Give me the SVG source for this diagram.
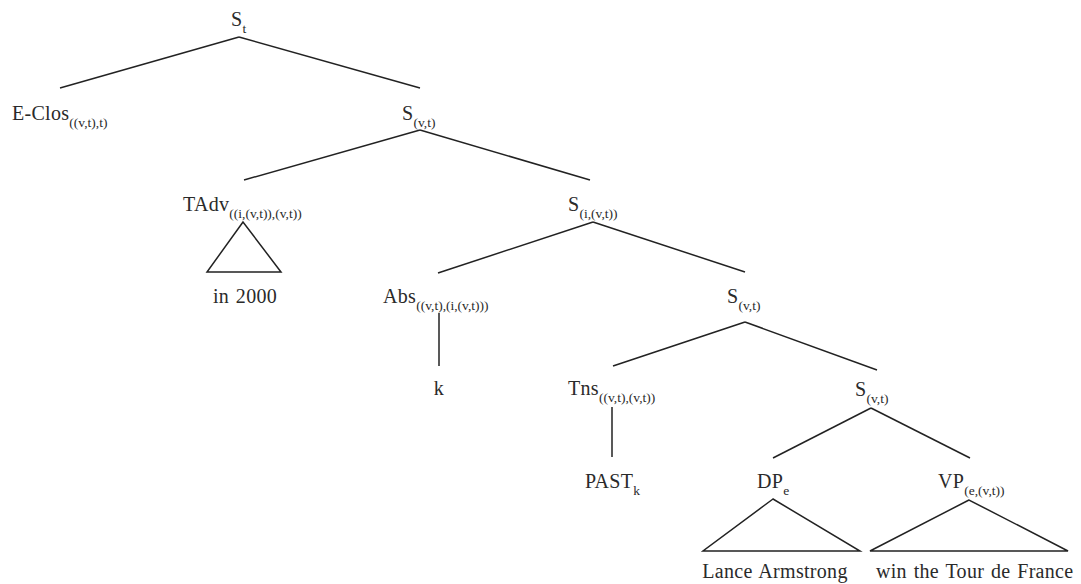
<svg xmlns="http://www.w3.org/2000/svg" width="1081" height="584" viewBox="0 0 1081 584">
<style>
text{font-family:"Liberation Serif","Times New Roman",serif;font-size:20px;fill:#2a2a2a;letter-spacing:0.3px;word-spacing:1.5px}
.s{font-size:13.5px;letter-spacing:0}
.c line,.c polygon{stroke:#222;stroke-width:1.5;fill:none}
</style>
<rect width="1081" height="584" fill="#fff"/>
<g class="c" id="connectors">
<line x1="239" y1="37" x2="60" y2="88"/>
<line x1="239" y1="37" x2="420" y2="88"/>
<line x1="420" y1="130" x2="244" y2="180"/>
<line x1="420" y1="130" x2="590" y2="180"/>
<polygon points="243,222 207,272 281,272"/>
<line x1="593" y1="222" x2="438" y2="273"/>
<line x1="593" y1="222" x2="745" y2="272"/>
<line x1="439" y1="313" x2="439" y2="366"/>
<line x1="745" y1="322" x2="613" y2="366"/>
<line x1="745" y1="322" x2="877" y2="370"/>
<line x1="612" y1="407" x2="612" y2="457"/>
<line x1="871" y1="408" x2="773" y2="458"/>
<line x1="871" y1="408" x2="970" y2="458"/>
<polygon points="773,499 703,551 860,551"/>
<polygon points="969,500 870,551 1068,551"/>
</g>
<g id="n-st"><text x="231" y="26">S<tspan class="s" dy="7">t</tspan></text></g>
<g id="n-eclos"><text x="12" y="120">E-Clos<tspan class="s" dy="7">((v,t),t)</tspan></text></g>
<g id="n-svt1"><text x="402" y="120">S<tspan class="s" dy="7">(v,t)</tspan></text></g>
<g id="n-tadv"><text x="183" y="211">TAdv<tspan class="s" dy="7">((i,(v,t)),(v,t))</tspan></text></g>
<g id="n-in2000"><text x="245" y="303" text-anchor="middle">in 2000</text></g>
<g id="n-sivt"><text x="568" y="211">S<tspan class="s" dy="7">(i,(v,t))</tspan></text></g>
<g id="n-abs"><text x="383" y="303">Abs<tspan class="s" dy="7">((v,t),(i,(v,t)))</tspan></text></g>
<g id="n-k"><text x="439" y="395" text-anchor="middle">k</text></g>
<g id="n-svt2"><text x="727" y="303">S<tspan class="s" dy="7">(v,t)</tspan></text></g>
<g id="n-tns"><text x="568" y="395">Tns<tspan class="s" dy="7">((v,t),(v,t))</tspan></text></g>
<g id="n-past"><text x="585" y="488">PAST<tspan class="s" dy="7">k</tspan></text></g>
<g id="n-svt3"><text x="855" y="396">S<tspan class="s" dy="7">(v,t)</tspan></text></g>
<g id="n-dp"><text x="757" y="488">DP<tspan class="s" dy="7">e</tspan></text></g>
<g id="n-vp"><text x="938" y="488">VP<tspan class="s" dy="7">(e,(v,t))</tspan></text></g>
<g id="n-lance"><text x="775" y="578" text-anchor="middle">Lance Armstrong</text></g>
<g id="n-win"><text x="876" y="578">win the Tour de France</text></g>
</svg>
